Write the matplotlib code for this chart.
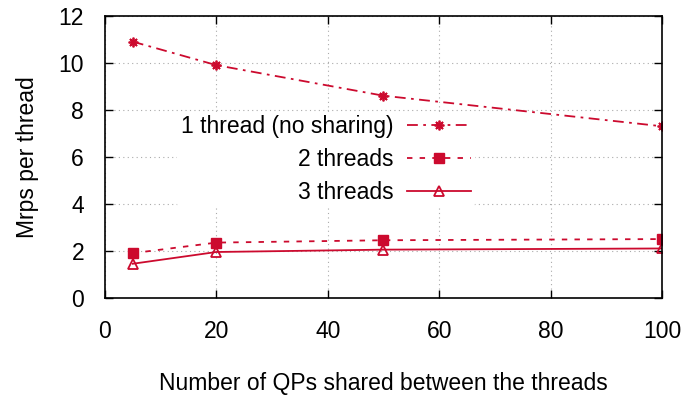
import matplotlib
matplotlib.use('Agg')
import matplotlib.pyplot as plt

plt.rcParams['font.family'] = ['Liberation Sans', 'DejaVu Sans']

qps = [5, 20, 50, 100]
one_thread = [10.9, 9.9, 8.6, 7.3]
two_threads = [1.9, 2.35, 2.45, 2.5]
three_threads = [1.45, 1.95, 2.05, 2.1]

red = '#CC0A2E'
fs = 16.5

fig = plt.figure(figsize=(6.86, 3.95), dpi=100)
ax = fig.add_axes([0.153, 0.246, 0.812, 0.714])

ax.plot(qps, one_thread, color=red, lw=1.3, dashes=(6, 3, 1.5, 3),
        marker=(8, 2, 0), ms=7, mew=1.3, label='1 thread (no sharing)')
ax.plot(qps, two_threads, color=red, lw=1.3, dashes=(3, 4),
        marker='s', ms=7, label='2 threads')
ax.plot(qps, three_threads, color=red, lw=1.3,
        marker='^', ms=7, mfc='none', mew=1.3, label='3 threads')

ax.set_xlim(0, 100)
ax.set_ylim(0, 12)
ax.set_xticks(range(0, 101, 20))
ax.set_yticks(range(0, 13, 2))
ax.grid(True, color='#aaaaaa', ls=(0, (1, 3)), lw=0.8)
ax.set_axisbelow(True)
ax.tick_params(direction='in', length=6, top=True, right=True, labelsize=fs, width=1)
ax.tick_params(axis='x', pad=16)
ax.tick_params(axis='y', pad=15)
for s in ax.spines.values():
    s.set_linewidth(1.2)

ax.set_xlabel('Number of QPs shared between the threads', fontsize=fs, labelpad=21)
ax.set_ylabel('Mrps per thread', fontsize=fs, labelpad=14)

# key sits over the grid but under the data lines
leg = ax.legend(loc='upper right', bbox_to_anchor=(0.692, 0.717), bbox_transform=fig.transFigure,
                markerfirst=False, frameon=True, fontsize=fs, handlelength=2.8,
                handletextpad=0.6, labelspacing=0.43, borderpad=0.15, borderaxespad=0)
leg.get_frame().set_edgecolor('none')
leg.get_frame().set_facecolor('white')
leg.get_frame().set_alpha(1)
leg.set_zorder(1)
for t in leg.get_texts():
    t.set_ha('right')
leg._legend_box.align = 'right'

fig.savefig('out.png', dpi=100)
